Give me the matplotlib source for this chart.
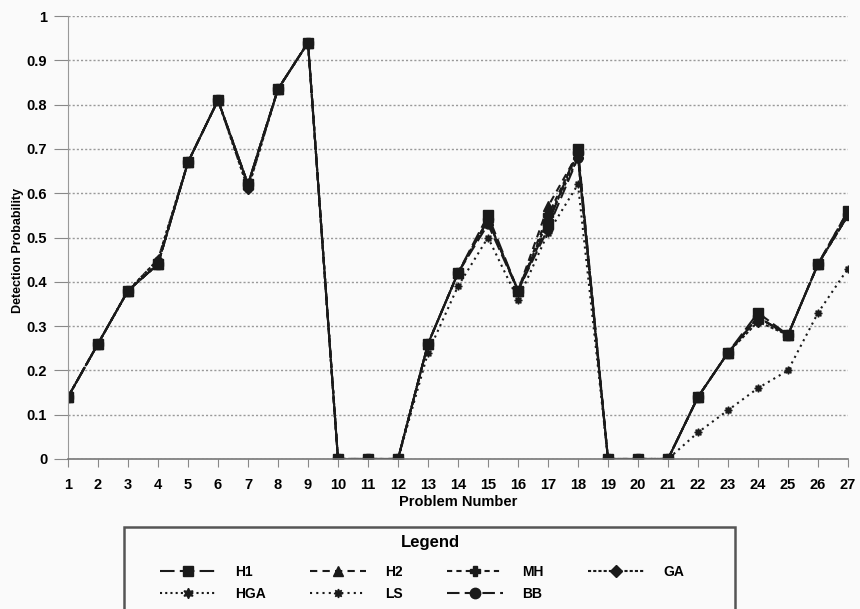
import matplotlib.pyplot as plt
from matplotlib.patches import Rectangle

plt.rcParams['font.family'] = ['Liberation Sans', 'DejaVu Sans']
plt.rcParams['font.weight'] = 'bold'

# Номери задач
problems = list(range(1, 28))

# Ймовірність виявлення для кожного методу
h1 = [0.14, 0.26, 0.38, 0.44, 0.67, 0.81, 0.62, 0.835, 0.94, 0, 0, 0,
      0.26, 0.42, 0.55, 0.38, 0.53, 0.70, 0, 0, 0,
      0.14, 0.24, 0.33, 0.28, 0.44, 0.56]
h2 = [0.14, 0.26, 0.38, 0.44, 0.67, 0.81, 0.62, 0.835, 0.94, 0, 0, 0,
      0.26, 0.42, 0.54, 0.38, 0.57, 0.69, 0, 0, 0,
      0.14, 0.24, 0.32, 0.28, 0.44, 0.56]
mh = [0.14, 0.26, 0.38, 0.44, 0.67, 0.81, 0.62, 0.835, 0.94, 0, 0, 0,
      0.26, 0.42, 0.54, 0.38, 0.55, 0.69, 0, 0, 0,
      0.14, 0.24, 0.32, 0.28, 0.44, 0.55]
ga = [0.14, 0.26, 0.38, 0.45, 0.67, 0.81, 0.61, 0.835, 0.94, 0, 0, 0,
      0.26, 0.42, 0.54, 0.38, 0.54, 0.68, 0, 0, 0,
      0.14, 0.24, 0.31, 0.28, 0.44, 0.55]
hga = [0.14, 0.26, 0.38, 0.44, 0.67, 0.81, 0.62, 0.835, 0.94, 0, 0, 0,
       0.26, 0.42, 0.54, 0.38, 0.54, 0.69, 0, 0, 0,
       0.14, 0.24, 0.32, 0.28, 0.44, 0.55]
ls = [0.14, 0.26, 0.38, 0.45, 0.67, 0.81, 0.61, 0.835, 0.94, 0, 0, 0,
      0.24, 0.39, 0.50, 0.36, 0.51, 0.62, 0, 0, 0,
      0.06, 0.11, 0.16, 0.20, 0.33, 0.43]
bb = [0.14, 0.26, 0.38, 0.44, 0.67, 0.81, 0.62, 0.835, 0.94, 0, 0, 0,
      0.26, 0.42, 0.53, 0.38, 0.52, 0.68, 0, 0, 0,
      0.14, 0.24, 0.32, 0.28, 0.44, 0.55]

yticks = [0, 0.1, 0.2, 0.3, 0.4, 0.5, 0.6, 0.7, 0.8, 0.9, 1]

W, H = 860, 609
bg = '#fafafa'
fig = plt.figure(figsize=(W / 100, H / 100), dpi=100, facecolor=bg)
ax = fig.add_axes([68 / W, 150 / H, 780 / W, 443 / H])
ax.set_facecolor(bg)

c = '#1a1a1a'
# Порядок малювання: нижні лінії спочатку, H1 зверху
series = [
    ('LS', ls, (8, 1, 0), 5.5, (0, (1, 2))),
    ('HGA', hga, (6, 1, 0), 6.5, (0, (1, 1.5))),
    ('GA', ga, 'D', 5.5, (0, (1.5, 1))),
    ('MH', mh, 'P', 6.5, (0, (2.5, 2))),
    ('BB', bb, 'o', 6.5, (0, (6, 2.5))),
    ('H2', h2, '^', 6.5, (0, (3.5, 2.5))),
    ('H1', h1, 's', 6.5, (0, (7, 2.5))),
]
handles = {}
for name, vals, mk, ms, lsty in series:
    line, = ax.plot(problems, vals, color=c, marker=mk, markersize=ms,
                    linestyle=lsty, linewidth=1.5, label=name)
    handles[name] = line

ax.set_xlim(1, 27)
ax.set_ylim(0, 1)
ax.set_xticks(problems)
ax.set_yticks(yticks)
ax.set_yticklabels([f'{v:g}' for v in yticks])
ax.tick_params(axis='x', direction='out', length=6, width=0.8, color='#888888',
               pad=8, labelsize=10.5)
ax.tick_params(axis='y', direction='out', length=10, width=0.8, color='#888888',
               pad=5, labelsize=10.5)
ax.grid(axis='y', linestyle=(0, (1.5, 1.5)), color='#999999', linewidth=1)
ax.set_axisbelow(True)
for s in ['top', 'right']:
    ax.spines[s].set_visible(False)
ax.spines['left'].set_color('#999999')
ax.spines['bottom'].set_color('#777777')
ax.spines['bottom'].set_linewidth(1.2)

ax.set_xlabel('Problem Number', fontsize=10.5, fontweight='bold', labelpad=2)
ax.set_ylabel('Detection Probability', fontsize=9, fontweight='bold')
ax.yaxis.set_label_coords(-0.056, 0.47)

# Рамка легенди (обрізана нижнім краєм)
fig.add_artist(Rectangle((124 / W, -0.05), (735 - 124) / W, (H - 527) / H + 0.05,
                         transform=fig.transFigure, fill=False,
                         edgecolor='#555555', linewidth=1.8))
fig.text(430 / W, 1 - 543 / H, 'Legend', ha='center', va='center',
         fontsize=12, fontweight='bold')

# Легенда (стовпці заповнюються по черзі)
order = ['H1', 'HGA', 'H2', 'LS', 'MH', 'BB', 'GA']
leg = fig.legend([handles[n] for n in order], order, ncol=4,
                 loc='upper left', bbox_to_anchor=(160 / W, 1 - 565 / H),
                 frameon=False, fontsize=10, handlelength=4.0,
                 borderaxespad=0, borderpad=0, labelspacing=0.55,
                 handletextpad=1.4, columnspacing=3.2, markerscale=1.15)

fig.savefig('out.png', dpi=100, facecolor=fig.get_facecolor())
